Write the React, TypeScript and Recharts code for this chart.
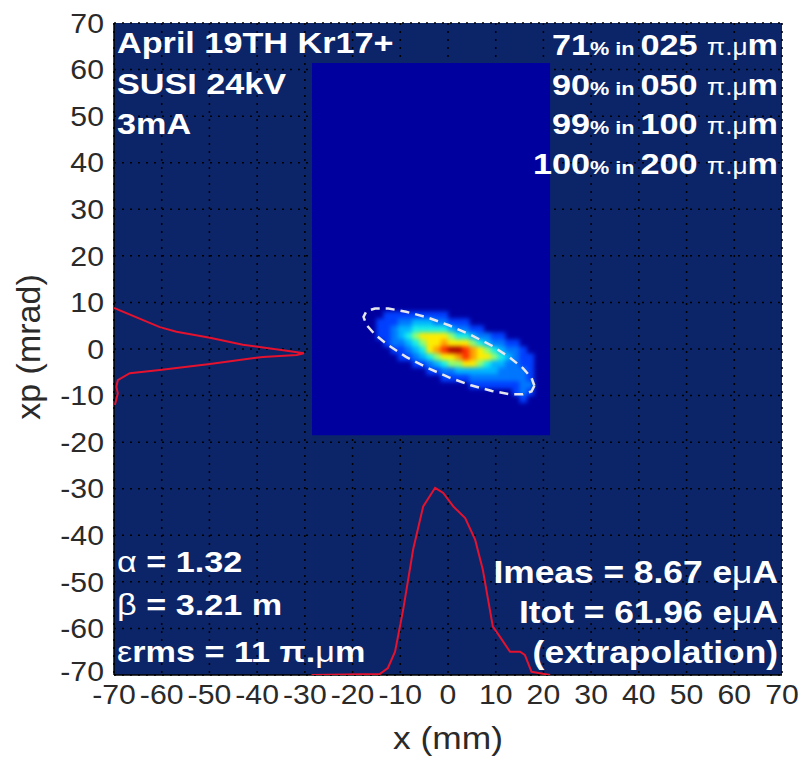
import React from 'react'
import { ScatterChart, Scatter, XAxis, YAxis, CartesianGrid, ReferenceArea } from 'recharts'

const FONT = '"Liberation Sans", Arial, sans-serif'

// axes
const xTicks = [-70, -60, -50, -40, -30, -20, -10, 0, 10, 20, 30, 40, 50, 60, 70]
const yTicks = [-70, -60, -50, -40, -30, -20, -10, 0, 10, 20, 30, 40, 50, 60, 70]

// extent of the measured phase-space image
const imageExtentX = [-28.5, 21.4]
const imageExtentY = [-18.5, 61.4]

// density map: cell centres and intensity level per cell (0 = empty)
const heatXs = [-14.25, -12.75, -11.25, -9.75, -8.25, -6.75, -5.25, -3.75, -2.25, -0.75, 0.75, 2.25, 3.75, 5.25, 6.75, 8.25, 9.75, 11.25, 12.75, 14.25, 15.75, 17.25, 18.75]
const heatYs = [7.25, 5.75, 4.25, 2.75, 1.25, -0.25, -1.75, -3.25, -4.75, -6.25, -7.75, -9.25, -10.75]
const heatRows = [
  '01111111110000000000000',
  '11122333221110000000000',
  '11233444443221100000000',
  '11234566665443221100000',
  '01223456676665432211000',
  '00112346789987654322100',
  '00011234566787665432110',
  '00000112345566543322110',
  '00000001122333333222210',
  '00000000011112222222210',
  '00000000000001111111220',
  '00000000000000000001210',
  '00000000000000000000100',
]
const heatColors = ['none', '#0040ff', '#0078ff', '#00b4ff', '#18f0e8', '#90ff70', '#ffee00', '#ffa000', '#ff3000', '#b00000']

// 99% emittance ellipse (x mm, xp mrad)
const ellipseX = [18.1, 17.5, 15.7, 12.9, 9.2, 4.8, 0.2, -4.4, -8.8, -12.5, -15.3, -17.1, -17.7, -17.1, -15.3, -12.5, -8.8, -4.4, 0.2, 4.8, 9.2, 12.9, 15.7, 17.5, 18.1]
const ellipseY = [-7.9, -9.1, -9.7, -9.7, -9.0, -7.8, -6.1, -4.0, -1.7, 0.8, 3.1, 5.2, 6.9, 8.1, 8.7, 8.7, 8.0, 6.8, 5.1, 3.0, 0.7, -1.8, -4.1, -6.2, -7.9]

// projected profile on xp (drawn sideways from the left edge)
const xpProfileX = [-70, -60.4, -56.9, -49.9, -43, -38, -33.8, -30.2, -31.7, -38.8, -49.9, -60.4, -66.7, -69.2, -69.5, -69.2, -69.8]
const xpProfileY = [8.8, 4.7, 3.7, 2.4, 0.9, 0.2, -0.4, -0.9, -1.3, -1.7, -3.2, -4.5, -5.2, -6.7, -8.1, -9.5, -12]

// projected profile on x (drawn up from the bottom edge)
const xProfileX = [-28.6, -14.3, -12.6, -11.1, -9.4, -7.3, -5.2, -2.7, -1, 1.1, 3.6, 5.7, 7.3, 9.4, 10.9, 13, 15.1, 16.1, 17.5, 21.4]
const xProfileY = [-70, -69.8, -68.5, -65, -56, -43, -33.8, -29.8, -30.9, -33.8, -36.3, -41, -47.4, -59.6, -61.8, -65, -65, -65.7, -69.3, -70]

// annotations
const runInfo = ['April 19TH Kr17+', 'SUSI 24kV', '3mA']
const fractionPct = ['71', '90', '99', '100']
const fractionEmit = ['025', '050', '100', '200']
const twiss = ['1.32', '3.21', '11']
const currents = ['8.67', '61.96']

const heatData = heatRows.flatMap((row, r) =>
  row.split('').map((c, i) => ({ x: heatXs[i], y: heatYs[r], level: Number(c) }))
).filter((d) => d.level > 0)
const ellipseData = ellipseX.map((x, i) => ({ x, y: ellipseY[i] }))
const xpProfileData = xpProfileX.map((x, i) => ({ x, y: xpProfileY[i] }))
const xProfileData = xProfileX.map((x, i) => ({ x, y: xProfileY[i] }))

const W = 806
const H = 759
const PLOT = { left: 114, right: 782, top: 23, bottom: 675 }
const cellW = (1.5 * (PLOT.right - PLOT.left)) / 140 + 0.5
const cellH = (1.5 * (PLOT.bottom - PLOT.top)) / 140 + 0.5

const HeatCell = (props: any) => {
  const { cx, cy, payload } = props
  return <rect x={cx - cellW / 2} y={cy - cellH / 2} width={cellW} height={cellH} fill={heatColors[payload.level]} />
}
const NoDot = () => <g />

const XTick = ({ x, y, payload }: any) => (
  <text transform={`translate(${x} ${y}) scale(1.12 1)`} textAnchor="middle" dy="0.71em" fontSize={27} fill="#2a2a2a" fontFamily={FONT}>
    {payload.value}
  </text>
)
// lowest label sits a touch higher so it clears the x tick row
const YTick = ({ x, y, payload }: any) => (
  <text transform={`translate(${x} ${payload.value === -70 ? y - 4 : y}) scale(1.12 1)`} textAnchor="end" dy="0.36em" fontSize={27} fill="#2a2a2a" fontFamily={FONT}>
    {payload.value}
  </text>
)

const Note = ({ x, y, anchor = 'start', size = 30, children }: any) => (
  <text transform={`translate(${x} ${y}) scale(1.14 1)`} textAnchor={anchor} fill="#fff" fontWeight="bold" fontSize={size} fontFamily={FONT}>
    {children}
  </text>
)

export default function App() {
  return (
    <div style={{ position: 'absolute', left: 0, top: 0, width: W, height: H, background: '#fff' }}>
      <style>{'.heat-layer { filter: blur(2.2px); }'}</style>
      <ScatterChart width={W} height={H} margin={{ top: 23, right: 24, bottom: 0, left: 0 }}>
        <CartesianGrid fill="#0b2568" fillOpacity={1} stroke="#000" strokeDasharray="2 6" strokeWidth={1.5} />
        <XAxis
          type="number"
          dataKey="x"
          domain={[-70, 70]}
          ticks={xTicks}
          interval={0}
          allowDataOverflow
          height={84}
          tickSize={0}
          tickMargin={10}
          tick={<XTick />}
          axisLine={{ stroke: '#000', strokeWidth: 1.5 }}
        />
        <YAxis
          type="number"
          dataKey="y"
          domain={[-70, 70]}
          ticks={yTicks}
          interval={0}
          allowDataOverflow
          width={114}
          tickSize={0}
          tickMargin={10}
          tick={<YTick />}
          axisLine={{ stroke: '#000', strokeWidth: 1.5 }}
        />
        <ReferenceArea x1={imageExtentX[0]} x2={imageExtentX[1]} y1={imageExtentY[0]} y2={imageExtentY[1]} fill="#00009f" fillOpacity={1} stroke="none" />
        <Scatter className="heat-layer" data={heatData} shape={<HeatCell />} isAnimationActive={false} />
        <Scatter data={ellipseData} shape={<NoDot />} line={{ stroke: '#e6e6ee', strokeWidth: 2.5, strokeDasharray: '9 6' }} isAnimationActive={false} />
        <Scatter data={xpProfileData} shape={<NoDot />} line={{ stroke: '#e4122e', strokeWidth: 2 }} isAnimationActive={false} />
        <Scatter data={xProfileData} shape={<NoDot />} line={{ stroke: '#e4122e', strokeWidth: 2 }} isAnimationActive={false} />
      </ScatterChart>

      <svg width={W} height={H} style={{ position: 'absolute', left: 0, top: 0, pointerEvents: 'none' }}>
        <text transform="translate(448 749) scale(1.14 1)" textAnchor="middle" fontSize={31} fill="#2a2a2a" fontFamily={FONT}>x (mm)</text>
        <text transform="translate(40 347) rotate(-90)" textAnchor="middle" fontSize={34} fill="#2a2a2a" fontFamily={FONT}>xp (mrad)</text>

        {runInfo.map((s, i) => (
          <Note key={s} x={117} y={53 + i * 40.5}>{s}</Note>
        ))}

        {fractionPct.map((p, i) => (
          <Note key={p} x={778} y={55 + i * 39.7} anchor="end">
            <tspan>{p}</tspan>
            <tspan fontSize={19}>% in </tspan>
            <tspan>{fractionEmit[i]} </tspan>
            <tspan fontWeight="normal" fontSize={23}>π.μ</tspan>
            <tspan>m</tspan>
          </Note>
        ))}

        <Note x={117} y={572}>
          <tspan fontWeight="normal">α</tspan> = {twiss[0]}
        </Note>
        <Note x={117} y={615}>
          <tspan fontWeight="normal">β</tspan> = {twiss[1]} m
        </Note>
        <Note x={117} y={662}>
          <tspan fontWeight="normal">ε</tspan>rms = {twiss[2]} π.<tspan fontWeight="normal">μ</tspan>m
        </Note>

        <Note x={778} y={583} anchor="end" size={31}>
          Imeas = {currents[0]} e<tspan fontWeight="normal">μ</tspan>A
        </Note>
        <Note x={778} y={623} anchor="end" size={31}>
          Itot = {currents[1]} e<tspan fontWeight="normal">μ</tspan>A
        </Note>
        <Note x={778} y={663} anchor="end" size={31}>(extrapolation)</Note>
      </svg>
    </div>
  )
}
